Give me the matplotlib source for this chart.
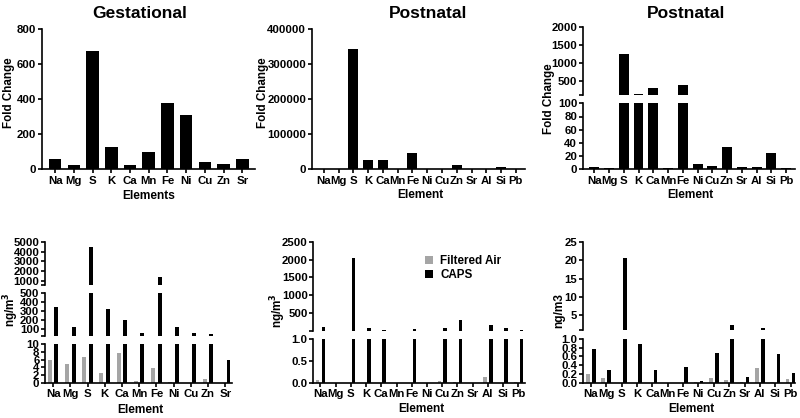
import matplotlib.pyplot as plt
import numpy as np

plt.rcParams['font.family'] = ['Liberation Sans', 'DejaVu Sans']
plt.rcParams['font.weight'] = 'bold'

W, H = 800, 418

# data
elems_gest = ['Na', 'Mg', 'S', 'K', 'Ca', 'Mn', 'Fe', 'Ni', 'Cu', 'Zn', 'Sr']
elems_post = ['Na', 'Mg', 'S', 'K', 'Ca', 'Mn', 'Fe', 'Ni', 'Cu', 'Zn', 'Sr', 'Al', 'Si', 'Pb']

fold_gest = [57, 25, 678, 126, 26, 101, 377, 309, 40, 30, 59]
fold_post_a = [300, 200, 345000, 25700, 27700, 300, 46600, 200, 300, 11400, 200, 400, 6600, 200]
fold_post_b = [3, 2, 1260, 125, 300, 2, 390, 8, 5, 34, 4, 4, 24, 2]

conc_gest_fa = [5.9, 5.0, 6.6, 2.5, 7.6, 0.6, 3.8, 0.2, 0, 1.0, 0]
conc_gest_caps = [345, 125, 4430, 316, 200, 56, 1440, 125, 50, 39, 5.9]

conc_post_a_fa = [0.06, 0, 0, 0, 0, 0, 0, 0, 0.03, 0.01, 0, 0.12, 0, 0.01]
conc_post_a_caps = [97, 0, 2055, 68, 20, 0, 40, 0, 68, 300, 0, 160, 68, 20]

conc_post_b_fa = [0.2, 0.1, 0, 0, 0, 0, 0, 0.01, 0.11, 0.06, 0.01, 0.33, 0.01, 0.08]
conc_post_b_caps = [0.77, 0.29, 20.6, 0.88, 0.29, 0, 0.37, 0.04, 0.67, 2.4, 0.12, 1.5, 0.65, 0.23]

GRAY = '#a5a5a5'
LW = 1.2
TICK_FS = 8.2


def add_seg(fig, x0, x1, ytop, ybot, xlim, ylim, ticks, labels, names=None):
    ax = fig.add_axes([x0 / W, 1 - ybot / H, (x1 - x0) / W, (ybot - ytop) / H])
    ax.set_xlim(*xlim)
    ax.set_ylim(*ylim)
    ax.spines['top'].set_visible(False)
    ax.spines['right'].set_visible(False)
    ax.spines['left'].set_linewidth(LW)
    ax.set_yticks(ticks)
    ax.set_yticklabels(labels)
    ax.tick_params(axis='y', length=3, width=LW, pad=1, labelsize=TICK_FS)
    if names is not None:
        ax.spines['bottom'].set_linewidth(LW)
        ax.set_xticks(np.arange(len(names)))
        ax.set_xticklabels(names)
        ax.tick_params(axis='x', length=3, width=LW, pad=1.5, labelsize=TICK_FS)
    else:
        ax.spines['bottom'].set_visible(False)
        ax.set_xticks([])
    ax.patch.set_visible(False)
    return ax


def single_bars(axes, vals, width=0.67):
    x = np.arange(len(vals))
    for ax in axes:
        ax.bar(x, vals, width, color='black')


def pair_bars(axes, fa, caps, off=0.19, width=0.23):
    x = np.arange(len(fa))
    hs = []
    for ax in axes:
        h1 = ax.bar(x - off, fa, width, color=GRAY)
        h2 = ax.bar(x + off, caps, width, color='black')
        hs = [h1, h2]
    return hs


fig = plt.figure(figsize=(W / 100, H / 100), dpi=100)

# ---- top row: fold change ----
ax1 = add_seg(fig, 41.7, 255, 29.3, 169.3, (-0.72, 10.68), (0, 800),
              [0, 200, 400, 600, 800], ['0', '200', '400', '600', '800'], elems_gest)
single_bars([ax1], fold_gest)

ax2 = add_seg(fig, 311.7, 525, 29.3, 169.3, (-0.82, 13.62), (0, 400000),
              [0, 100000, 200000, 300000, 400000],
              ['0', '100000', '200000', '300000', '400000'], elems_post)
single_bars([ax2], fold_post_a)

ax3u = add_seg(fig, 582.7, 795, 27.3, 95, (-0.78, 13.6), (100, 2000),
               [100, 500, 1000, 1500, 2000], ['', '500', '1000', '1500', '2000'])
ax3l = add_seg(fig, 582.7, 795, 103.3, 169.3, (-0.78, 13.6), (0, 100),
               [0, 20, 40, 60, 80, 100], ['0', '20', '40', '60', '80', '100'], elems_post)
single_bars([ax3u, ax3l], fold_post_b)

# ---- bottom row: concentrations ----
xl4 = (-0.47, 10.41)
ax4t = add_seg(fig, 45, 232.3, 241.7, 285, xl4, (600, 5000),
               [600, 1000, 2000, 3000, 4000, 5000], ['', '1000', '2000', '3000', '4000', '5000'])
ax4m = add_seg(fig, 45, 232.3, 292.7, 336, xl4, (20, 500),
               [20, 100, 200, 300, 400, 500], ['', '100', '200', '300', '400', '500'])
ax4l = add_seg(fig, 45, 232.3, 344, 383, xl4, (0, 10),
               [0, 2, 4, 6, 8, 10], ['0', '2', '4', '6', '8', '10'], elems_gest)
pair_bars([ax4t, ax4m, ax4l], conc_gest_fa, conc_gest_caps)

xl5 = (-0.46, 13.43)
ax5t = add_seg(fig, 313.3, 525, 242, 330.7, xl5, (1, 2500),
               [1, 500, 1000, 1500, 2000, 2500], ['', '500', '1000', '1500', '2000', '2500'])
ax5l = add_seg(fig, 313.3, 525, 339, 382.7, xl5, (0, 1),
               [0, 0.5, 1.0], ['0.0', '0.5', '1.0'], elems_post)
hs = pair_bars([ax5t, ax5l], conc_post_a_fa, conc_post_a_caps, off=0.19, width=0.22)

xl6 = (-0.53, 13.28)
ax6t = add_seg(fig, 582.7, 795, 242, 330, xl6, (1, 25),
               [1, 5, 10, 15, 20, 25], ['', '5', '10', '15', '20', '25'])
ax6l = add_seg(fig, 582.7, 795, 339, 382.7, xl6, (0, 1),
               [0, 0.2, 0.4, 0.6, 0.8, 1.0], ['0.0', '0.2', '0.4', '0.6', '0.8', '1.0'], elems_post)
pair_bars([ax6t, ax6l], conc_post_b_fa, conc_post_b_caps, off=0.2, width=0.24)

fig.legend(hs, ['Filtered Air', 'CAPS'], loc='upper left',
           bbox_to_anchor=(425 / W, 1 - 255 / H), frameon=False,
           handlelength=0.7, handleheight=0.7, handletextpad=0.6,
           labelspacing=0.15, fontsize=8.4, borderpad=0, borderaxespad=0)


# titles and axis labels
def ftext(x, y, s, **kw):
    fig.text(x / W, 1 - y / H, s, ha='center', va='center', **kw)


ftext(140, 13, 'Gestational', fontsize=12.5)
ftext(428, 13, 'Postnatal', fontsize=12.5)
ftext(686, 13, 'Postnatal', fontsize=12.5)

ftext(9, 93, 'Fold Change', fontsize=8.4, rotation=90)
ftext(263, 93, 'Fold Change', fontsize=8.4, rotation=90)
ftext(549, 99, 'Fold Change', fontsize=8.4, rotation=90)

ftext(149, 196, 'Elements', fontsize=8.6)
ftext(420, 195, 'Element', fontsize=8.6)
ftext(690, 195, 'Element', fontsize=8.6)

ftext(11, 310, 'ng/m$^\\mathbf{3}$', fontsize=8.4, rotation=90)
ftext(278, 311, 'ng/m$^\\mathbf{3}$', fontsize=8.4, rotation=90)
ftext(559, 311, 'ng/m3', fontsize=8.6, rotation=90)

ftext(140, 410, 'Element', fontsize=8.6)
ftext(421, 409, 'Element', fontsize=8.6)
ftext(691, 409, 'Element', fontsize=8.6)

fig.savefig('out.png', dpi=100)
